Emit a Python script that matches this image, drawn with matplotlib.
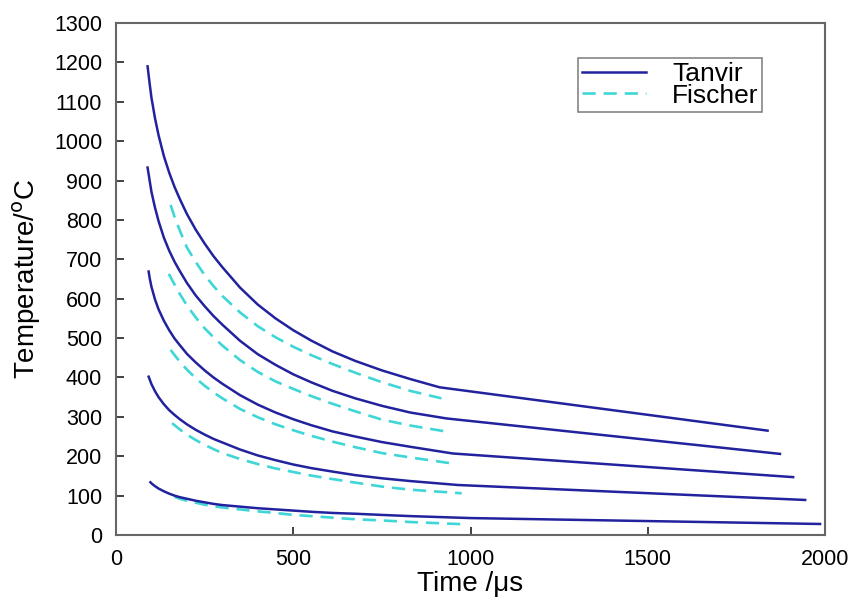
import matplotlib
matplotlib.use("Agg")
import matplotlib.pyplot as plt

plt.rcParams['font.family'] = ['Liberation Sans', 'DejaVu Sans']

# Tanvir (solid) curves: time (us), temperature (C)
t_tanvir_1 = [89, 95, 100, 110, 120, 135, 150, 165, 180, 200, 225, 250, 275, 300, 350, 400,
              450, 500, 550, 611, 675, 750, 830, 913, 1838]
T_tanvir_1 = [1190, 1145, 1110, 1058, 1015, 962, 920, 884, 853, 815, 775, 740, 708, 680, 628, 585,
              550, 520, 494, 466, 442, 418, 396, 375, 265]
t_tanvir_2 = [89, 95, 100, 110, 120, 135, 150, 165, 180, 200, 225, 250, 275, 300, 350, 400,
              450, 500, 550, 611, 675, 750, 830, 932, 1873]
T_tanvir_2 = [933, 899, 871, 831, 797, 755, 722, 694, 670, 640, 608, 581, 556, 534, 493, 459,
              432, 408, 388, 366, 347, 328, 311, 296, 206]
t_tanvir_3 = [92, 95, 100, 110, 120, 135, 150, 165, 180, 200, 225, 250, 275, 300, 350, 400,
              450, 500, 550, 611, 675, 750, 830, 950, 1910]
T_tanvir_3 = [669, 652, 630, 598, 573, 544, 520, 499, 482, 460, 438, 418, 400, 384, 355, 331,
              311, 294, 279, 263, 250, 236, 224, 207, 147]
t_tanvir_4 = [92, 95, 100, 110, 120, 135, 150, 165, 180, 200, 225, 250, 275, 300, 350, 400,
              450, 500, 550, 611, 675, 750, 830, 964, 1944]
T_tanvir_4 = [402, 395, 383, 365, 350, 332, 317, 305, 294, 281, 267, 255, 244, 235, 217, 202,
              190, 179, 170, 161, 152, 144, 137, 127, 89]
t_tanvir_5 = [97, 100, 110, 120, 135, 150, 165, 180, 200, 225, 250, 275, 300, 350, 400,
              450, 500, 550, 611, 675, 750, 830, 1000, 1986]
T_tanvir_5 = [134, 131, 124, 118, 111, 105, 100, 96, 92, 87, 83, 79, 76, 72, 68,
              65, 62, 59, 56, 54, 51, 48, 43, 28]

# Fischer (dashed) curves
t_fischer_1 = [154, 165, 180, 200, 225, 250, 275, 300, 350, 400, 450, 500, 550, 611, 675, 750, 830, 918]
T_fischer_1 = [838, 808, 773, 730, 693, 660, 632, 607, 565, 530, 502, 478, 457, 434, 412, 388, 366, 347]
t_fischer_2 = [149, 165, 180, 200, 225, 250, 275, 300, 350, 400, 450, 500, 550, 611, 675, 750, 830, 936]
T_fischer_2 = [663, 636, 612, 583, 552, 525, 502, 481, 444, 414, 390, 371, 353, 333, 314, 293, 278, 262]
t_fischer_3 = [154, 165, 180, 200, 225, 250, 275, 300, 350, 400, 450, 500, 550, 611, 675, 750, 830, 953]
T_fischer_3 = [470, 457, 440, 420, 398, 379, 362, 347, 320, 299, 281, 266, 252, 237, 223, 208, 197, 181]
t_fischer_4 = [158, 165, 180, 200, 225, 250, 275, 300, 350, 400, 450, 500, 550, 611, 675, 750, 830, 975]
T_fischer_4 = [284, 279, 268, 255, 241, 229, 218, 208, 193, 180, 169, 160, 151, 142, 133, 123, 115, 106]
t_fischer_5 = [165, 180, 200, 225, 250, 275, 300, 350, 400, 450, 500, 550, 611, 675, 750, 830, 989]
T_fischer_5 = [97, 92, 87, 82, 77, 73, 70, 65, 60, 56, 51, 48, 44, 40, 37, 33, 27]

tanvir = [(t_tanvir_1, T_tanvir_1), (t_tanvir_2, T_tanvir_2), (t_tanvir_3, T_tanvir_3),
          (t_tanvir_4, T_tanvir_4), (t_tanvir_5, T_tanvir_5)]
fischer = [(t_fischer_1, T_fischer_1), (t_fischer_2, T_fischer_2), (t_fischer_3, T_fischer_3),
           (t_fischer_4, T_fischer_4), (t_fischer_5, T_fischer_5)]

x_ticks = [0, 500, 1000, 1500, 2000]
y_ticks = list(range(0, 1301, 100))

solid_color = '#22229e'
dash_color = '#3fd6d8'

fig = plt.figure(figsize=(8.5, 6.01), dpi=100)
ax = fig.add_axes([0.1365, 0.1098, 0.8341, 0.8519])

for i, (tx, ty) in enumerate(fischer):
    ax.plot(tx, ty, color=dash_color, lw=1.9, dashes=(5, 3),
            label='Fischer' if i == 0 else None, zorder=2)
for i, (tx, ty) in enumerate(tanvir):
    ax.plot(tx, ty, color=solid_color, lw=1.8, solid_joinstyle='round',
            label='Tanvir' if i == 0 else None, zorder=3)

ax.set_xlim(0, 2000)
ax.set_ylim(0, 1300)
ax.set_xticks(x_ticks)
ax.set_yticks(y_ticks)
ax.tick_params(direction='in', length=6, width=1.3, labelsize=15.5, color='#333333',
               top=False, right=False, pad=10)
for s in ax.spines.values():
    s.set_color('#666666')
    s.set_linewidth(1.5)

ax.set_xlabel('Time /\u03bcs', fontsize=20, labelpad=1)
ax.set_ylabel('Temperature/$^{\\mathrm{o}}$C', fontsize=20, labelpad=8)

handles, labels = ax.get_legend_handles_labels()
order = [labels.index('Tanvir'), labels.index('Fischer')]
leg = ax.legend([handles[j] for j in order], [labels[j] for j in order],
                loc='upper left', bbox_to_anchor=(0.652, 0.932), borderaxespad=0,
                fontsize=19, frameon=True, fancybox=False, handlelength=2.4,
                handletextpad=1.0, labelspacing=-0.08, borderpad=0.15)
leg.get_frame().set_edgecolor('#666666')
leg.get_frame().set_linewidth(1.2)
# reference frame is a little wider on the right
fig.canvas.draw()
bb = leg.get_frame().get_bbox()
leg.get_frame().set_width(bb.width + 20)

fig.savefig('out.png', dpi=100)
